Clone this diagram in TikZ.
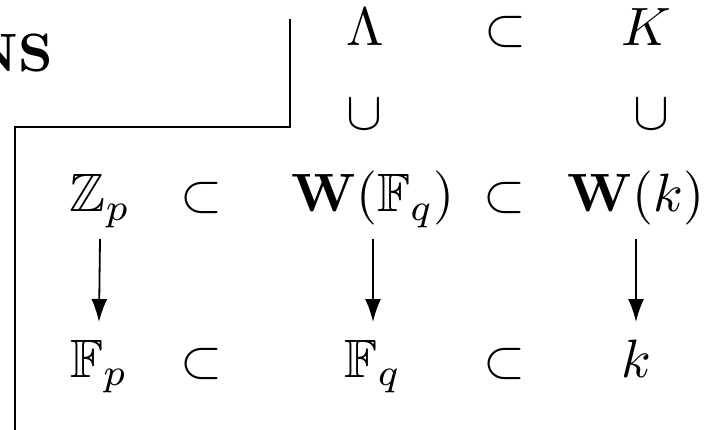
\documentclass[tikz,border=0pt]{standalone}
\usepackage{amsmath,amssymb,graphicx}
\usetikzlibrary{arrows.meta}
\newcommand{\magn}[1]{\scalebox{5.4}{#1}}

\begin{document}
\begin{tikzpicture}[x=1pt,y=-1pt,
  cell/.style={anchor=base,inner sep=0pt},
  mapsto/.style={-{Latex[length=23pt,width=16pt]},line width=1.8pt},
  frame/.style={line width=1.8pt}]
  \clip (0,0) rectangle (706,430);
  \node[cell,anchor=base east] (head) at (53,72) {\magn{\bfseries NS}};
  \draw[frame] (290,19) -- (290,127) -- (15,127) -- (15,430);
  % top rows
  \node[cell] (lam)  at (365,46)  {\magn{$\Lambda$}};
  \node[cell] (inca) at (505,46)  {\magn{$\subset$}};
  \node[cell] (bigK) at (646,46)  {\magn{$K$}};
  \node[cell] (cupa) at (364,130) {\magn{$\cup$}};
  \node[cell] (cupb) at (651,130) {\magn{$\cup$}};
  % Witt vectors
  \node[cell] (zp)   at (100,212) {\magn{$\mathbb{Z}_p$}};
  \node[cell] (incb) at (201,212) {\magn{$\subset$}};
  \node[cell] (wfq)  at (373,212) {\magn{$\mathbf{W}(\mathbb{F}_q)$}};
  \node[cell] (incc) at (504,212) {\magn{$\subset$}};
  \node[cell] (wk)   at (636,212) {\magn{$\mathbf{W}(k)$}};
  % residue fields
  \node[cell] (fp)   at (99,377)  {\magn{$\mathbb{F}_p$}};
  \node[cell] (incd) at (201,377) {\magn{$\subset$}};
  \node[cell] (fq)   at (373,377) {\magn{$\mathbb{F}_q$}};
  \node[cell] (ince) at (504,377) {\magn{$\subset$}};
  \node[cell] (kk)   at (636,377) {\magn{$k$}};
  \draw[mapsto] ([yshift=-27pt]zp.base)  -- ([yshift=55pt]fp.base);
  \draw[mapsto] ([yshift=-27pt]wfq.base) -- ([yshift=55pt]fq.base);
  \draw[mapsto] ([yshift=-27pt]wk.base)  -- ([yshift=55pt]kk.base);
\end{tikzpicture}
\end{document}
